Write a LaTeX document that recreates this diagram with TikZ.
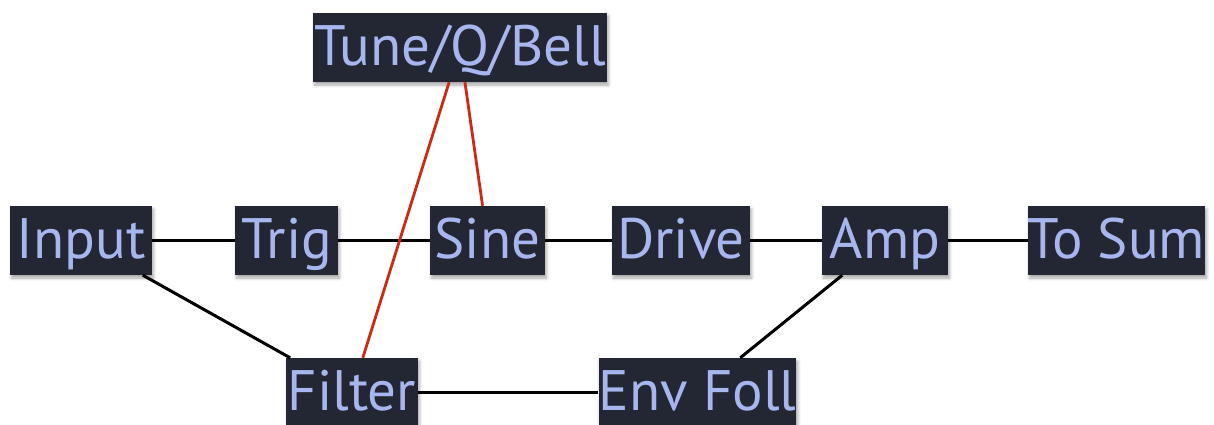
\documentclass[tikz,border=0pt]{standalone}
\usepackage{fontspec}
\setmainfont{PT Sans}
\usetikzlibrary{shadows.blur}
\definecolor{boxfill}{HTML}{232733}
\definecolor{boxtext}{HTML}{A7B6EF}
\definecolor{modline}{HTML}{CC2A12}
\tikzset{
  block/.style={draw=none, fill=boxfill, text=boxtext, font=\fontsize{57}{60}\selectfont,
    minimum height=69pt, inner xsep=0pt, inner ysep=8.5pt, text height=44pt, text depth=8pt,
    blur shadow={shadow blur steps=6, shadow blur radius=3pt, shadow xshift=1.5pt,
      shadow yshift=-3pt, shadow opacity=35}},
  wire/.style={line width=3pt, black},
  modwire/.style={line width=2.8pt, modline},
}
\begin{document}
\begin{tikzpicture}[x=1pt,y=-1pt]
\useasboundingbox (0,0) rectangle (1214,424);
% modules
\node[block, minimum width=294pt] (tune) at (460,47.5) {Tune/Q/Bell};
\node[block, minimum width=142pt] (input) at (81,240.5) {Input};
\node[block, minimum width=103pt] (trig) at (286.5,240.5) {Trig};
\node[block, minimum width=115pt] (sine) at (487.5,240.5) {Sine};
\node[block, minimum width=138pt] (drive) at (681,240.5) {Drive};
\node[block, minimum width=126pt] (amp) at (885,240.5) {Amp};
\node[block, minimum width=177pt] (tosum) at (1116.5,240.5) {To Sum};
\node[block, minimum width=132pt] (filter) at (352,392.5) {Filter};
\node[block, minimum width=195pt] (envfoll) at (697.5,392.5) {Env Foll};
% audio connections
\draw[wire] (input) -- (trig);
\draw[wire] (trig) -- (sine);
\draw[wire] (sine) -- (drive);
\draw[wire] (drive) -- (amp);
\draw[wire] (amp) -- (tosum);
\draw[wire] (input) -- (filter);
\draw[wire] (filter) -- (envfoll);
\draw[wire] (envfoll) -- (amp);
% modulation connections
\draw[modwire] (tune) -- (filter);
\draw[modwire] (tune) -- (sine);
\end{tikzpicture}
\end{document}
